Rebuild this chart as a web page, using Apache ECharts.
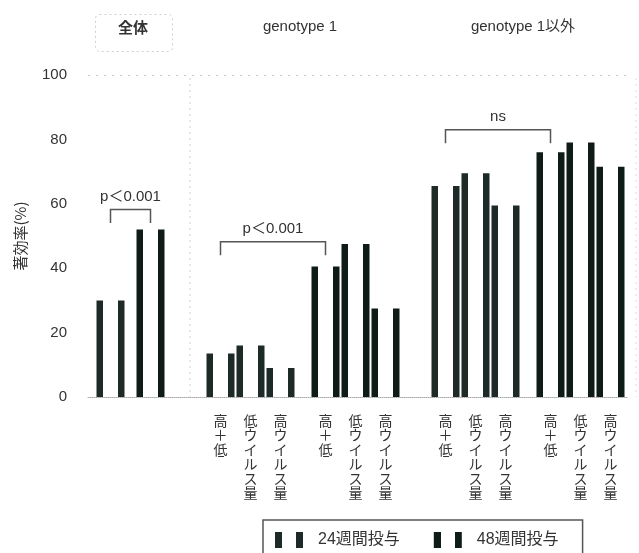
<!DOCTYPE html>
<html>
<head>
<meta charset="utf-8">
<script src="https://cdn.jsdelivr.net/npm/echarts@6/dist/echarts.min.js"></script>
<style>
  html, body { margin: 0; padding: 0; background: #fff; }
  #chart { width: 639px; height: 553px; }
</style>
</head>
<body>
<div id="chart"></div>
<script>
// ---------------- data ----------------
const panelTitles = ['全体', 'genotype 1', 'genotype 1以外'];
const subCategories = ['高＋低', '低ウイルス量', '高ウイルス量'];
const seriesNames = ['24週間投与', '48週間投与'];
const overall24 = [30];
const overall48 = [52];
const g1_24 = [13.5, 16, 9];
const g1_48 = [40.5, 47.5, 27.5];
const non1_24 = [65.5, 69.5, 59.5];
const non1_48 = [76, 79, 71.5];
const yTicks = [0, 20, 40, 60, 80, 100];
const bracketLabels = ['p＜0.001', 'p＜0.001', 'ns'];
const bracketTops = [58.2, 48.2, 83];

// ---------------- layout (slots on a fine category axis) ----------------
const SLOT_COUNT = 108;
const slots = {
  overall: [4, 12],
  g1_24: [26, 32, 38],
  g1_48: [47, 53, 59],
  non1_24: [71, 77, 83],
  non1_48: [92, 98, 104]
};
const xLabels = new Array(SLOT_COUNT).fill('');
const s24 = new Array(SLOT_COUNT).fill('-');
const s48 = new Array(SLOT_COUNT).fill('-');
const vertical = t => t.split('').join('\n');

s24[slots.overall[0]] = overall24[0];
s48[slots.overall[1]] = overall48[0];
subCategories.forEach((c, i) => {
  s24[slots.g1_24[i]] = g1_24[i];
  s48[slots.g1_48[i]] = g1_48[i];
  s24[slots.non1_24[i]] = non1_24[i];
  s48[slots.non1_48[i]] = non1_48[i];
  [slots.g1_24[i], slots.g1_48[i], slots.non1_24[i], slots.non1_48[i]].forEach(s => {
    xLabels[s] = vertical(c);
  });
});

const bracketSpans = [
  [slots.overall[0], slots.overall[1]],
  [slots.g1_24[0], slots.g1_48[0]],
  [slots.non1_24[0], slots.non1_48[0]]
];
const DROP = 4.2;
const bracketData = bracketSpans.map((sp, i) => [sp[0], sp[1], bracketTops[i], bracketTops[i] - DROP]);

function stripFill(dark) {
  return {
    type: 'linear', x: 0, y: 0, x2: 1, y2: 0,
    colorStops: [
      { offset: 0, color: dark }, { offset: 0.24, color: dark },
      { offset: 0.24, color: '#ffffff' }, { offset: 0.76, color: '#ffffff' },
      { offset: 0.76, color: dark }, { offset: 1, color: dark }
    ]
  };
}

const FONT = '"Liberation Sans", "Noto Sans CJK JP", sans-serif';
const chart = echarts.init(document.getElementById('chart'), null, { renderer: 'canvas' });

const option = {
  animation: false,
  backgroundColor: '#ffffff',
  textStyle: { fontFamily: FONT },
  grid: { left: 88, right: 11, top: 75, bottom: 156, containLabel: false },
  legend: {
    data: seriesNames.map(n => ({ name: n, icon: 'rect' })),
    left: 263,
    top: 520,
    orient: 'horizontal',
    itemWidth: 28,
    itemHeight: 16,
    itemGap: 34,
    padding: [12, 24, 12, 12],
    borderColor: '#555',
    borderWidth: 1.5,
    textStyle: { fontSize: 16, color: '#333', fontFamily: FONT, padding: [0, 0, 0, 10] }
  },
  xAxis: {
    type: 'category',
    data: xLabels,
    boundaryGap: true,
    axisLine: { show: true, lineStyle: { color: '#aaa', type: 'dotted', width: 1 } },
    axisTick: { show: false },
    axisLabel: {
      interval: 0,
      margin: 16,
      fontSize: 14,
      lineHeight: 14.5,
      color: '#333',
      fontFamily: '"Noto Sans CJK JP", sans-serif'
    },
    splitLine: { show: false }
  },
  yAxis: {
    type: 'value',
    min: yTicks[0],
    max: yTicks[yTicks.length - 1],
    interval: yTicks[1] - yTicks[0],
    name: '著効率(%)',
    nameLocation: 'middle',
    nameGap: 60,
    nameRotate: 90,
    nameTextStyle: { fontSize: 15, color: '#333', fontFamily: '"Noto Sans CJK JP", sans-serif' },
    axisLine: { show: false },
    axisTick: { show: false },
    axisLabel: { fontSize: 15, color: '#333', margin: 21 },
    splitLine: {
      show: true,
      lineStyle: {
        color: yTicks.map((t, i) => (i === yTicks.length - 1 ? '#c8c8c8' : 'rgba(0,0,0,0)')),
        type: [2, 6],
        width: 1
      }
    }
  },
  series: [
    {
      name: seriesNames[0],
      type: 'bar',
      data: s24,
      barWidth: 28,
      barGap: '-100%',
      itemStyle: { color: stripFill('#1e2a27') }
    },
    {
      name: seriesNames[1],
      type: 'bar',
      data: s48,
      barWidth: 28,
      barGap: '-100%',
      itemStyle: { color: stripFill('#0f1b17') }
    },
    {
      type: 'custom',
      silent: true,
      encode: { x: [0, 1], y: [2, 3] },
      data: bracketData,
      z: 5,
      renderItem: function (params, api) {
        const a = api.coord([api.value(0), api.value(3)]);
        const b = api.coord([api.value(0), api.value(2)]);
        const c = api.coord([api.value(1), api.value(2)]);
        const d = api.coord([api.value(1), api.value(3)]);
        return {
          type: 'group',
          children: [
            {
              type: 'polyline',
              shape: { points: [a, b, c, d] },
              style: { stroke: '#555', lineWidth: 1.5, fill: null }
            },
            {
              type: 'text',
              x: (b[0] + c[0]) / 2,
              y: b[1] - 5,
              style: {
                text: bracketLabels[params.dataIndex],
                textAlign: 'center',
                textVerticalAlign: 'bottom',
                fill: '#333',
                fontSize: 15,
                fontFamily: FONT
              }
            }
          ]
        };
      }
    }
  ],
  graphic: [
    { type: 'rect', left: 93, top: 12, shape: { width: 77, height: 37, r: 4 },
      style: { fill: null, stroke: '#cfcfcf', lineWidth: 1, lineDash: [2, 3] } },
    { type: 'text', x: 133, y: 27, style: { text: panelTitles[0], textAlign: 'center', textVerticalAlign: 'middle',
      fontSize: 15, fontWeight: 'bold', fill: '#333', fontFamily: '"Noto Sans CJK JP", sans-serif' } },
    { type: 'text', x: 300, y: 27, style: { text: panelTitles[1], textAlign: 'center', textVerticalAlign: 'middle',
      fontSize: 15, fill: '#333', fontFamily: FONT } },
    { type: 'text', x: 523, y: 27, style: { text: panelTitles[2], textAlign: 'center', textVerticalAlign: 'middle',
      fontSize: 15, fill: '#333', fontFamily: FONT } },
    { type: 'line', shape: { x1: 190, y1: 78, x2: 190, y2: 397 },
      style: { stroke: '#cfcfcf', lineWidth: 1, lineDash: [2, 4] } },
    { type: 'line', shape: { x1: 636, y1: 78, x2: 636, y2: 397 },
      style: { stroke: '#dcdcdc', lineWidth: 1, lineDash: [2, 4] } }
  ]
};
chart.setOption(option);
</script>
</body>
</html>
